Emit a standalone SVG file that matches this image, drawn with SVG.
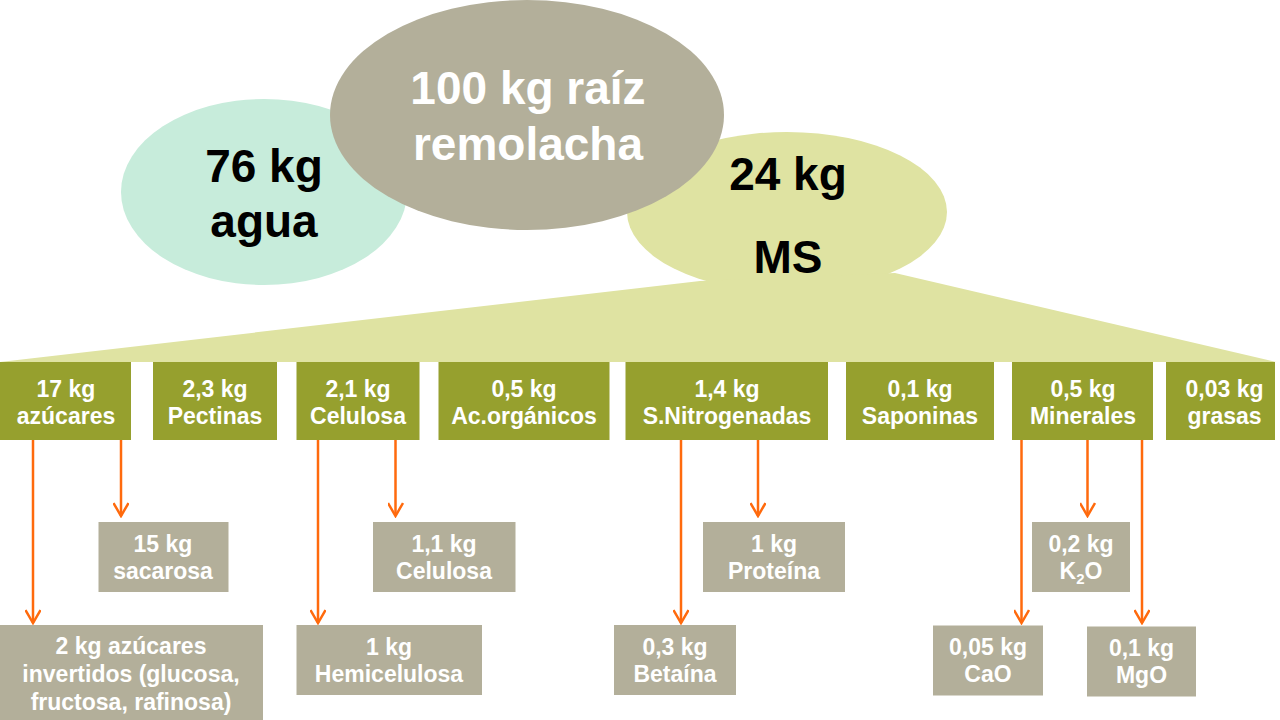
<svg xmlns="http://www.w3.org/2000/svg" width="1280" height="720" viewBox="0 0 1280 720">
  <style>
    text { font-family: "Liberation Sans", Arial, sans-serif; font-weight: bold; text-anchor: middle; }
    .big { font-size: 46px; }
    .lbl { font-size: 23px; fill: #ffffff; }
    .cat { fill: #96A02E; }
    .sub { fill: #B3AF9A; }
    .arr { stroke: #FF6A0D; stroke-width: 2.5; fill: none; marker-end: url(#ah); }
  </style>
  <defs>
    <marker id="ah" viewBox="0 0 16 16" markerUnits="userSpaceOnUse" markerWidth="16" markerHeight="16" refX="14" refY="8" orient="auto">
      <path d="M1,0.5 L14,8 L1,15.5" fill="none" stroke="#FF6A0D" stroke-width="2.5"/>
    </marker>
  </defs>
  <rect width="1280" height="720" fill="#ffffff"/>

  <g id="agua">
    <ellipse cx="264" cy="192" rx="143" ry="93" fill="#C7ECDB"/>
  </g>
  <g id="ms">
    <ellipse cx="787" cy="212" rx="160" ry="80" fill="#DFE3A2"/>
    <polygon points="0,362 700,281 895,273 1276,362" fill="#DFE3A2"/>
  </g>
  <g id="raiz">
    <ellipse cx="527" cy="115" rx="197" ry="115" fill="#B3AF9A"/>
    <text class="big" x="528" y="104" fill="#ffffff" font-size="45">100 kg raíz</text>
    <text class="big" x="528" y="160" fill="#ffffff" font-size="45">remolacha</text>
  </g>
  <g id="agua-text">
    <text class="big" x="264" y="182" fill="#000000">76 kg</text>
    <text class="big" x="264" y="237" fill="#000000">agua</text>
  </g>
  <g id="ms-text">
    <text class="big" x="788" y="190" fill="#000000">24 kg</text>
    <text class="big" x="788" y="273" fill="#000000">MS</text>
  </g>

  <g id="connectors">
    <line class="arr" x1="33" y1="440" x2="33" y2="623"/>
    <line class="arr" x1="121" y1="440" x2="121" y2="516"/>
    <line class="arr" x1="318" y1="440" x2="318" y2="623"/>
    <line class="arr" x1="395.5" y1="440" x2="395.5" y2="516"/>
    <line class="arr" x1="681" y1="440" x2="681" y2="623"/>
    <line class="arr" x1="758" y1="440" x2="758" y2="516"/>
    <line class="arr" x1="1021.5" y1="440" x2="1021.5" y2="623"/>
    <line class="arr" x1="1087.5" y1="440" x2="1087.5" y2="516"/>
    <line class="arr" x1="1142" y1="440" x2="1142" y2="623"/>
  </g>

  <g id="azucares">
    <rect class="cat" x="0" y="362" width="131" height="78"/>
    <text class="lbl" x="66" y="397">17 kg</text>
    <text class="lbl" x="66" y="424">azúcares</text>
  </g>
  <g id="pectinas">
    <rect class="cat" x="153" y="362" width="124" height="78"/>
    <text class="lbl" x="215" y="397">2,3 kg</text>
    <text class="lbl" x="215" y="424">Pectinas</text>
  </g>
  <g id="celulosa">
    <rect class="cat" x="296.5" y="362" width="123" height="78"/>
    <text class="lbl" x="358" y="397">2,1 kg</text>
    <text class="lbl" x="358" y="424">Celulosa</text>
  </g>
  <g id="acorganicos">
    <rect class="cat" x="438.5" y="362" width="171" height="78"/>
    <text class="lbl" x="524" y="397">0,5 kg</text>
    <text class="lbl" x="524" y="424">Ac.orgánicos</text>
  </g>
  <g id="nitrogenadas">
    <rect class="cat" x="625.5" y="362" width="202.5" height="78"/>
    <text class="lbl" x="727" y="397">1,4 kg</text>
    <text class="lbl" x="727" y="424">S.Nitrogenadas</text>
  </g>
  <g id="saponinas">
    <rect class="cat" x="846" y="362" width="148" height="78"/>
    <text class="lbl" x="920" y="397">0,1 kg</text>
    <text class="lbl" x="920" y="424">Saponinas</text>
  </g>
  <g id="minerales">
    <rect class="cat" x="1012" y="362" width="141" height="78"/>
    <text class="lbl" x="1083" y="397">0,5 kg</text>
    <text class="lbl" x="1083" y="424">Minerales</text>
  </g>
  <g id="grasas">
    <rect class="cat" x="1166" y="362" width="109" height="78"/>
    <text class="lbl" x="1224.5" y="397">0,03 kg</text>
    <text class="lbl" x="1224.5" y="424">grasas</text>
  </g>

  <g id="sacarosa">
    <rect class="sub" x="98.5" y="522" width="130" height="70"/>
    <text class="lbl" x="163" y="552">15 kg</text>
    <text class="lbl" x="163" y="579">sacarosa</text>
  </g>
  <g id="invertidos">
    <rect class="sub" x="0" y="625" width="263" height="95"/>
    <text class="lbl" x="131" y="654">2 kg azúcares</text>
    <text class="lbl" x="131" y="682">invertidos (glucosa,</text>
    <text class="lbl" x="131" y="710">fructosa, rafinosa)</text>
  </g>
  <g id="celulosa2">
    <rect class="sub" x="373" y="522" width="142.5" height="70"/>
    <text class="lbl" x="444" y="552">1,1 kg</text>
    <text class="lbl" x="444" y="579">Celulosa</text>
  </g>
  <g id="hemicelulosa">
    <rect class="sub" x="296.5" y="625" width="185.5" height="70"/>
    <text class="lbl" x="389" y="655">1 kg</text>
    <text class="lbl" x="389" y="682">Hemicelulosa</text>
  </g>
  <g id="proteina">
    <rect class="sub" x="703" y="522" width="142" height="70"/>
    <text class="lbl" x="774" y="552">1 kg</text>
    <text class="lbl" x="774" y="579">Proteína</text>
  </g>
  <g id="betaina">
    <rect class="sub" x="614" y="625" width="122" height="70"/>
    <text class="lbl" x="675" y="655">0,3 kg</text>
    <text class="lbl" x="675" y="682">Betaína</text>
  </g>
  <g id="k2o">
    <rect class="sub" x="1032" y="522" width="98" height="70"/>
    <text class="lbl" x="1081" y="552">0,2 kg</text>
    <text class="lbl" x="1081" y="579">K<tspan font-size="15" dy="5">2</tspan><tspan dy="-5">O</tspan></text>
  </g>
  <g id="cao">
    <rect class="sub" x="933" y="625.5" width="110" height="70"/>
    <text class="lbl" x="988" y="655">0,05 kg</text>
    <text class="lbl" x="988" y="682">CaO</text>
  </g>
  <g id="mgo">
    <rect class="sub" x="1087" y="626.5" width="109" height="70"/>
    <text class="lbl" x="1141.5" y="656">0,1 kg</text>
    <text class="lbl" x="1141.5" y="683">MgO</text>
  </g>
</svg>
